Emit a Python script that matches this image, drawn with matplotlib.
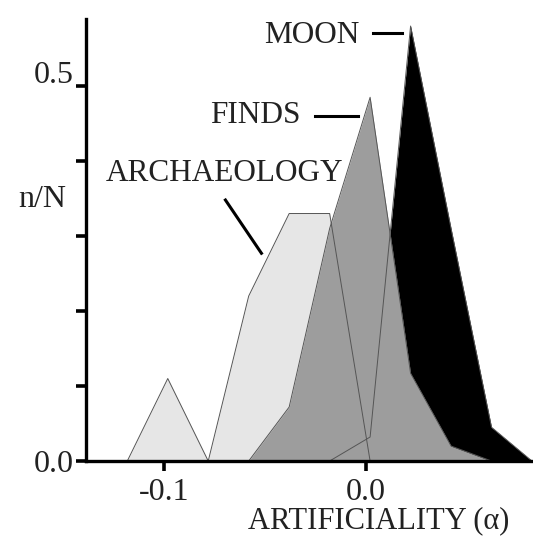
import matplotlib
matplotlib.use("Agg")
import matplotlib.pyplot as plt
from matplotlib.transforms import ScaledTranslation

plt.rcParams['font.family'] = ['Liberation Serif', 'DejaVu Serif']

# bin centres of the histograms (artificiality alpha)
alpha = [-0.118, -0.098, -0.078, -0.058, -0.038, -0.018, 0.002, 0.022, 0.042, 0.062, 0.082]

# relative frequencies n/N
archaeology = [0.0, 0.11, 0.0, 0.22, 0.33, 0.33, 0.0, None, None, None, None]
finds = [None, None, None, 0.0, 0.072, 0.31, 0.485, 0.117, 0.02, 0.0, None]
moon = [None, None, None, None, None, 0.0, 0.032, 0.58, 0.31, 0.045, 0.0]

series = [
    ("MOON", moon, "#000000", 1),
    ("ARCHAEOLOGY", archaeology, "#e6e6e6", 2),
    ("FINDS", finds, "#9d9d9d", 3),
]

x_ticks = [-0.1, 0.0]
x_ticklabels = ["-0.1", "0.0"]
y_ticks = [0.0, 0.1, 0.2, 0.3, 0.4, 0.5]
y_ticklabels = ["0.0", "", "", "", "", "0.5"]


def pairs(xs, ys):
    pts = [(a, b) for a, b in zip(xs, ys) if b is not None]
    return [p[0] for p in pts], [p[1] for p in pts]


def main():
    fig = plt.figure(figsize=(5.33, 5.37), dpi=100)
    ax = fig.add_axes([0.161, 0.1415, 0.839, 0.824])

    # filled polygons first, outlines on top of all fills
    for name, vals, col, z in series:
        xs, ys = pairs(alpha, vals)
        ax.fill_between(xs, ys, 0, color=col, lw=0, zorder=z)
    for name, vals, col, z in series:
        xs, ys = pairs(alpha, vals)
        ax.plot(xs, ys, color="#555555", lw=0.7, zorder=4)

    ax.set_xlim(-0.1385, 0.0825)
    ax.set_ylim(0, 0.59)

    for s in ["top", "right"]:
        ax.spines[s].set_visible(False)
    for s in ["left", "bottom"]:
        ax.spines[s].set_linewidth(2.4)
        ax.spines[s].set_zorder(10)

    ax.set_xticks(x_ticks)
    ax.set_xticklabels(x_ticklabels)
    ax.set_yticks(y_ticks)
    ax.set_yticklabels(y_ticklabels)
    ax.tick_params(axis="both", direction="out", length=7.5, width=2.6,
                   labelsize=23, labelcolor="#222222")
    ax.tick_params(axis="y", pad=1)
    ax.tick_params(axis="x", pad=5)
    # the "0.5" label sits a little above its tick
    lab = ax.get_yticklabels()[-1]
    lab.set_transform(lab.get_transform() + ScaledTranslation(0, 0.14, fig.dpi_scale_trans))

    ax.set_xlabel("ARTIFICIALITY (\u03b1)", fontsize=22, color="#222222", va="center")
    ax.xaxis.set_label_coords(0.655, -0.134)
    ax.set_ylabel("n/N", fontsize=23, color="#222222", rotation=0, ha="center", va="center")
    ax.yaxis.set_label_coords(-0.098, 0.59)

    # series labels with leader lines
    ax.text(-0.003, 0.568, "MOON", fontsize=22.5, ha="right", va="center", color="#222222")
    ax.plot([0.0035, 0.018], [0.571, 0.571], color="black", lw=2.2)
    ax.text(-0.0325, 0.461, "FINDS", fontsize=22.5, ha="right", va="center", color="#222222")
    ax.plot([-0.025, -0.004], [0.46, 0.46], color="black", lw=2.2)
    ax.text(-0.1286, 0.384, "ARCHAEOLOGY", fontsize=22.5, ha="left", va="center", color="#222222")
    ax.plot([-0.0695, -0.0517], [0.348, 0.277], color="black", lw=2.2)

    fig.savefig("out.png", dpi=100)


if __name__ == "__main__":
    main()
